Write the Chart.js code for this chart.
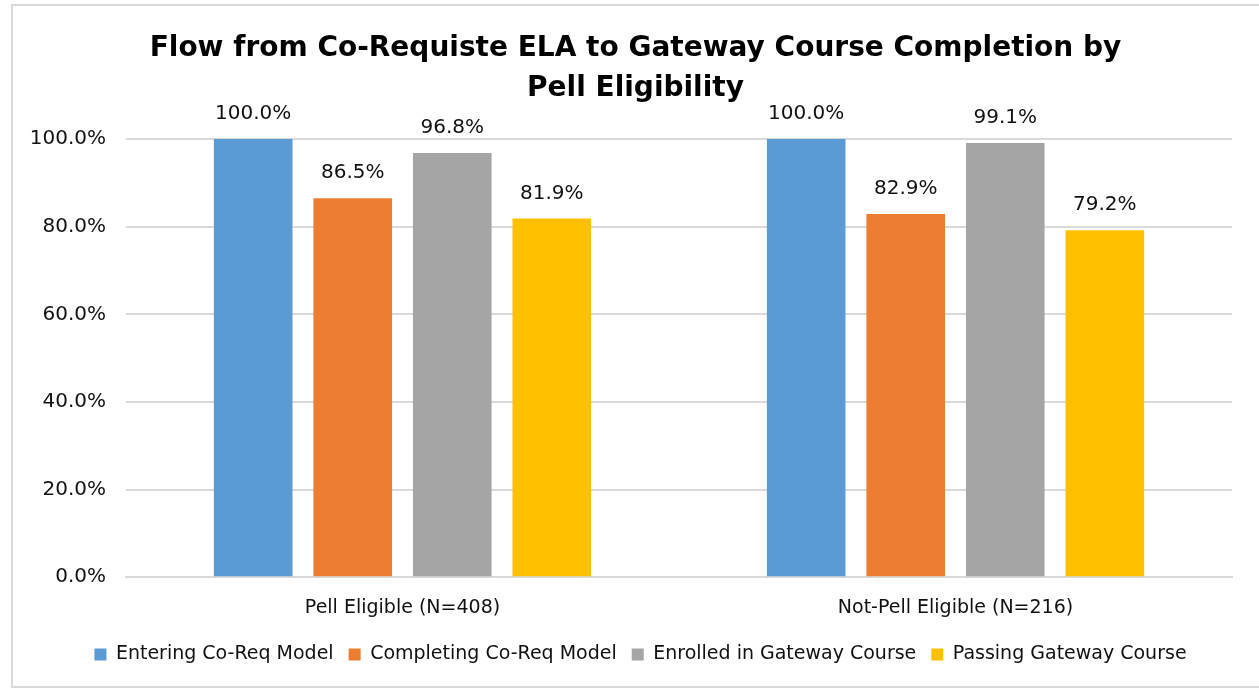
<!DOCTYPE html>
<html>
<head>
<meta charset="utf-8">
<script src="https://cdn.jsdelivr.net/npm/chart.js@4"></script>
<style>
  body { margin: 0; background: #fff; }
  #box {
    position: absolute; left: 11px; top: 4px;
    width: 1250px; height: 680px;
    border: 2px solid #d9d9d9;
  }
</style>
</head>
<body>
<div id="box"><canvas id="flowChart"></canvas></div>
<script>
var groupLabels = ['Pell Eligible (N=408)', 'Not-Pell Eligible (N=216)'];
var seriesNames = ['Entering Co-Req Model', 'Completing Co-Req Model', 'Enrolled in Gateway Course', 'Passing Gateway Course'];
var enteringData = [100.0, 100.0];
var completingData = [86.5, 82.9];
var enrolledData = [96.8, 99.1];
var passingData = [81.9, 79.2];
var yTicks = [0, 20, 40, 60, 80, 100];

var fontFam = '"DejaVu Sans", sans-serif';

// writes the value above every bar
var barLabels = {
    id: 'barLabels',
    afterDatasetsDraw: function (chart) {
        var ctx = chart.ctx;
        ctx.save();
        ctx.font = '20px ' + fontFam;
        ctx.fillStyle = '#111';
        ctx.textAlign = 'center';
        ctx.textBaseline = 'middle';
        chart.data.datasets.forEach(function (ds, i) {
            chart.getDatasetMeta(i).data.forEach(function (bar, j) {
                ctx.fillText(ds.data[j].toFixed(1) + '%', bar.x, bar.y - 25);
            });
        });
        ctx.restore();
    }
};

// the original centres title and legend a bit right of the canvas middle
var nudgeBoxes = {
    id: 'nudgeBoxes',
    afterLayout: function (chart) {
        if (chart.legend) { chart.legend.left += 18; chart.legend.right += 18; }
        if (chart.titleBlock) { chart.titleBlock.left += 13; chart.titleBlock.right += 13; }
    }
};

document.addEventListener("DOMContentLoaded", function () {
    var ctx = document.getElementById('flowChart').getContext('2d');
    new Chart(ctx, {
        type: 'bar',
        data: {
            labels: groupLabels,
            datasets: [
                { label: seriesNames[0], data: enteringData, backgroundColor: '#5B9BD5' },
                { label: seriesNames[1], data: completingData, backgroundColor: '#ED7D31' },
                { label: seriesNames[2], data: enrolledData, backgroundColor: '#A5A5A5' },
                { label: seriesNames[3], data: passingData, backgroundColor: '#FFC000' }
            ]
        },
        options: {
            responsive: true,
            maintainAspectRatio: false,
            animation: false,
            categoryPercentage: 0.72,
            barPercentage: 0.79,
            layout: { padding: { left: 0, right: 31, top: 0, bottom: 12 } },
            plugins: {
                title: {
                    display: true,
                    text: ['Flow from Co-Requiste ELA to Gateway Course Completion by', 'Pell Eligibility'],
                    color: '#000',
                    font: { family: fontFam, size: 28, weight: 'bold', lineHeight: 1.43 },
                    padding: { top: 23, bottom: 30 }
                },
                legend: {
                    position: 'bottom',
                    labels: {
                        color: '#111',
                        font: { family: fontFam, size: 19 },
                        boxWidth: 12,
                        boxHeight: 12,
                        padding: 15
                    }
                },
                tooltip: { enabled: false }
            },
            scales: {
                x: {
                    grid: { display: false },
                    border: { color: '#d9d9d9', width: 2 },
                    ticks: { color: '#111', font: { family: fontFam, size: 19 }, padding: 11 }
                },
                y: {
                    min: 0,
                    max: 100,
                    afterBuildTicks: function (axis) {
                        axis.ticks = yTicks.map(function (v) { return { value: v }; });
                    },
                    afterFit: function (axis) { axis.width = 113; },
                    grid: { color: '#d9d9d9', lineWidth: 2, drawTicks: false },
                    border: { display: false },
                    ticks: {
                        color: '#111',
                        font: { family: fontFam, size: 20 },
                        padding: 20,
                        callback: function (v) { return v.toFixed(1) + '%'; }
                    }
                }
            }
        },
        plugins: [barLabels, nudgeBoxes]
    });
});
</script>
</body>
</html>
